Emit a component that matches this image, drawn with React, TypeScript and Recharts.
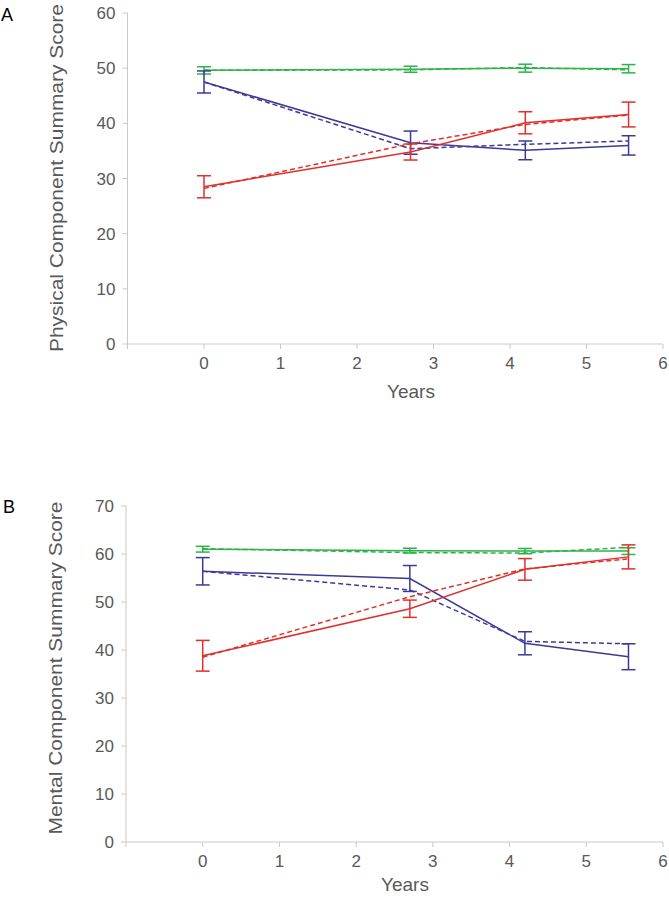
import React from 'react';
import { LineChart, Line, XAxis, YAxis, ErrorBar } from 'recharts';

const years = [0, 2.7, 4.2, 5.55];
const xTicks = [-1, 0, 1, 2, 3, 4, 5, 6];
const pcsTicks = [0, 10, 20, 30, 40, 50, 60];
const mcsTicks = [0, 10, 20, 30, 40, 50, 60, 70];

// Panel A: Physical Component Summary Score
const pcsGreenSolid = [49.6, 49.8, 50.0, 49.9];
const pcsGreenErr = [0.66, 0.55, 0.72, 0.75];
const pcsGreenDashed = [49.6, 49.7, 50.1, 49.7];
const pcsBlueSolid = [47.5, 36.5, 35.1, 36.0];
const pcsBlueErr = [2.0, 2.1, 1.7, 1.75];
const pcsBlueDashed = [47.5, 35.4, 36.2, 36.8];
const pcsRedSolid = [28.5, 34.8, 40.1, 41.6];
const pcsRedErr = [2.0, 1.45, 2.0, 2.25];
const pcsRedDashed = [28.2, 36.3, 39.8, 41.5];

// Panel B: Mental Component Summary Score
const mcsGreenSolid = [61.0, 60.7, 60.6, 60.6];
const mcsGreenErr = [0.6, 0.5, 0.55, 0.7];
const mcsGreenDashed = [61.1, 60.3, 60.2, 61.4];
const mcsBlueSolid = [56.4, 54.9, 41.4, 38.6];
const mcsBlueErr = [2.85, 2.7, 2.4, 2.7];
const mcsBlueDashed = [56.4, 52.5, 41.8, 41.3];
const mcsRedSolid = [38.8, 48.6, 56.8, 59.4];
const mcsRedErr = [3.2, 1.8, 2.25, 2.5];
const mcsRedDashed = [38.5, 51.1, 56.9, 59.0];

const GREEN = '#2db34a';
const BLUE = '#3b3a98';
const RED = '#e0302c';
const AXIS = '#c9c9c9';
const TEXT = '#595959';
const FONT = '"Liberation Sans", Arial, sans-serif';

function build(gs: number[], ge: number[], gd: number[], bs: number[], be: number[], bd: number[], rs: number[], re: number[], rd: number[]) {
  return years.map((x, i) => ({
    x,
    gs: gs[i], ge: ge[i], gd: gd[i],
    bs: bs[i], be: be[i], bd: bd[i],
    rs: rs[i], re: re[i], rd: rd[i],
  }));
}

const dataA = build(pcsGreenSolid, pcsGreenErr, pcsGreenDashed, pcsBlueSolid, pcsBlueErr, pcsBlueDashed, pcsRedSolid, pcsRedErr, pcsRedDashed);
const dataB = build(mcsGreenSolid, mcsGreenErr, mcsGreenDashed, mcsBlueSolid, mcsBlueErr, mcsBlueDashed, mcsRedSolid, mcsRedErr, mcsRedDashed);

const tickStyle = { fill: TEXT, fontSize: 17, fontFamily: FONT };

function Panel({ data, yTicks, yMax, height, margin, yWidth }: any) {
  return (
    <LineChart width={669} height={height} data={data} margin={margin}>
      <XAxis
        dataKey="x"
        type="number"
        domain={[-1, 6]}
        ticks={xTicks}
        tickFormatter={(v: number) => (v === -1 ? '' : String(v))}
        stroke={AXIS}
        tickSize={5}
        tickMargin={8}
        tick={tickStyle}
        height={45}
        interval={0}
        allowDataOverflow
      />
      <YAxis
        type="number"
        domain={[0, yMax]}
        ticks={yTicks}
        stroke={AXIS}
        tickSize={5}
        tickMargin={7}
        tick={tickStyle}
        width={yWidth}
        interval={0}
        allowDataOverflow
      />
      <Line dataKey="gd" stroke={GREEN} strokeWidth={1.5} strokeDasharray="5 3" dot={false} isAnimationActive={false} />
      <Line dataKey="gs" stroke={GREEN} strokeWidth={1.5} dot={false} isAnimationActive={false}>
        <ErrorBar dataKey="ge" width={7} stroke={GREEN} strokeWidth={1.5} direction="y" />
      </Line>
      <Line dataKey="bd" stroke={BLUE} strokeWidth={1.5} strokeDasharray="5 3" dot={false} isAnimationActive={false} />
      <Line dataKey="bs" stroke={BLUE} strokeWidth={1.5} dot={false} isAnimationActive={false}>
        <ErrorBar dataKey="be" width={7} stroke={BLUE} strokeWidth={1.5} direction="y" />
      </Line>
      <Line dataKey="rd" stroke={RED} strokeWidth={1.5} strokeDasharray="5 3" dot={false} isAnimationActive={false} />
      <Line dataKey="rs" stroke={RED} strokeWidth={1.5} dot={false} isAnimationActive={false}>
        <ErrorBar dataKey="re" width={7} stroke={RED} strokeWidth={1.5} direction="y" />
      </Line>
    </LineChart>
  );
}

export default function App() {
  return (
    <div style={{ position: 'absolute', left: 0, top: 0, width: 669, height: 899, background: '#fff', overflow: 'hidden' }}>
      <div style={{ position: 'absolute', left: 0, top: 0 }}>
        <Panel data={dataA} yTicks={pcsTicks} yMax={60} height={420}
          margin={{ top: 13, right: 6, left: 0, bottom: 31 }} yWidth={127.5} />
      </div>
      <div style={{ position: 'absolute', left: 0, top: 480 }}>
        <Panel data={dataB} yTicks={mcsTicks} yMax={70} height={419}
          margin={{ top: 26, right: 6, left: 0, bottom: 12 }} yWidth={126} />
      </div>
      <svg width={669} height={899} style={{ position: 'absolute', left: 0, top: 0, pointerEvents: 'none' }}>
        <text x={1} y={21} fontSize={18} fontFamily={FONT} fill="#000">A</text>
        <text x={3} y={513} fontSize={18} fontFamily={FONT} fill="#000">B</text>
        <text transform="translate(63,178) rotate(-90)" textAnchor="middle" fontSize={19}
          textLength={348} lengthAdjust="spacingAndGlyphs" fontFamily={FONT} fill={TEXT}>
          Physical Component Summary Score
        </text>
        <text transform="translate(62,668) rotate(-90)" textAnchor="middle" fontSize={19}
          textLength={333} lengthAdjust="spacingAndGlyphs" fontFamily={FONT} fill={TEXT}>
          Mental Component Summary Score
        </text>
        <text x={411} y={398} textAnchor="middle" fontSize={19} fontFamily={FONT} fill={TEXT}>Years</text>
        <text x={405} y={891} textAnchor="middle" fontSize={19} fontFamily={FONT} fill={TEXT}>Years</text>
      </svg>
    </div>
  );
}
